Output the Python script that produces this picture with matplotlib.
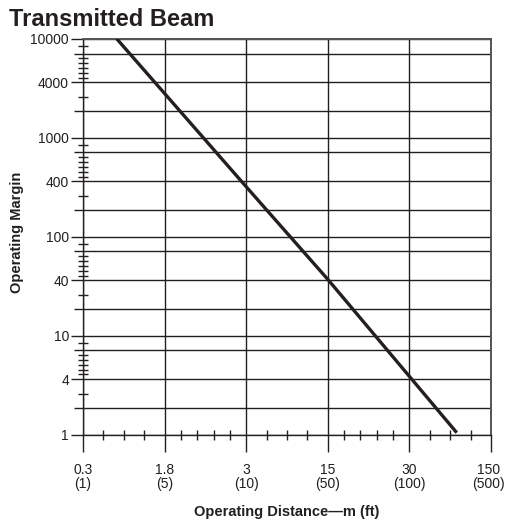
import numpy as np
import matplotlib
matplotlib.use('Agg')
import matplotlib.pyplot as plt
from matplotlib.transforms import ScaledTranslation, blended_transform_factory

plt.rcParams['font.family'] = ['Liberation Sans Narrow', 'Liberation Sans', 'DejaVu Sans']

# ---- data (distance in ft, margin) ----
dist_ft = [2.65, 10, 50, 332]
margin = [10000, 363, 41, 1.07]

x_major = [1, 5, 10, 50, 100, 500]
x_labels = ['0.3\n(1)', '1.8\n(5)', '3\n(10)', '15\n(50)', '30\n(100)', '150\n(500)']
x_minor = [2, 3, 4, 6, 7, 8, 9, 20, 30, 40, 60, 70, 80, 90, 200, 300, 400]

y_grid_steps = [1, 2, 4, 7]
y_label_steps = [1, 4]
y_minor_steps = [3, 4.5, 5, 5.5, 6, 6.5, 8.5]

# chart's own (non-log) scales: piecewise linear
Y_ANCH = [1, 2, 4, 7, 10]
Y_FRAC = [0, 0.265, 0.558, 0.85, 1]


def pw(v, xs, ys):
    v = np.asarray(v, float)
    out = np.interp(v, xs, ys)
    out = np.where(v < xs[0], ys[0] + (v - xs[0]) * (ys[1] - ys[0]) / (xs[1] - xs[0]), out)
    out = np.where(v > xs[-1], ys[-1] + (v - xs[-1]) * (ys[-1] - ys[-2]) / (xs[-1] - xs[-2]), out)
    return out


def x_fwd(v):
    return pw(v, x_major, list(range(len(x_major))))


def x_inv(p):
    return pw(p, list(range(len(x_major))), x_major)


def y_fwd(v):
    v = np.clip(np.asarray(v, float), 1e-6, None)
    d = np.floor(np.log10(v) + 1e-9)
    return d + np.interp(v / 10.0 ** d, Y_ANCH, Y_FRAC)


def y_inv(p):
    p = np.asarray(p, float)
    d = np.floor(p + 1e-9)
    return 10.0 ** d * np.interp(p - d, Y_FRAC, Y_ANCH)


ink = '#231f20'
fig = plt.figure(figsize=(5.05, 5.25), dpi=100)
ax = fig.add_axes([83 / 505, 1 - 434.5 / 525, 408 / 505, 395.8 / 525])
ax.set_xscale('function', functions=(x_fwd, x_inv))
ax.set_yscale('function', functions=(y_fwd, y_inv))
ax.set_xlim(1, 500)
ax.set_ylim(1, 10000)

ax.plot(dist_ft, margin, color=ink, lw=2.4, solid_capstyle='butt', zorder=5)

# ticks (last x label drawn by hand, nudged left so it stays inside the figure)
tick_len, tick_pad = 12.2, 8
ax.set_xticks(x_major)
ax.set_xticklabels(x_labels[:-1] + [''], fontsize=10, linespacing=1.05)
ax.set_xticks(x_minor, minor=True)
tr = blended_transform_factory(ax.transData, ax.transAxes) + \
    ScaledTranslation(-2.5 / 100, -(tick_len + tick_pad) / 72, fig.dpi_scale_trans)
ax.text(x_major[-1], 0, x_labels[-1], transform=tr, ha='center', va='top',
        fontsize=10, linespacing=1.05, color=ink, clip_on=False)

y_major = [s * 10 ** d for d in range(4) for s in y_grid_steps] + [10000]
y_lab = [str(int(v)) if (v / 10 ** int(np.floor(np.log10(v) + 1e-9))) in y_label_steps else '' for v in y_major]
y_minor = [s * 10 ** d for d in range(4) for s in y_minor_steps]
ax.set_yticks(y_major)
ax.set_yticklabels(y_lab, fontsize=10)
ax.set_yticks(y_minor, minor=True)
ax.yaxis.set_minor_formatter(plt.NullFormatter())
ax.xaxis.set_minor_formatter(plt.NullFormatter())

ax.tick_params(axis='x', which='major', direction='out', length=tick_len, width=1.0, color=ink,
               pad=tick_pad, labelcolor=ink)
ax.tick_params(axis='y', which='major', direction='out', length=8.6, width=1.0, color=ink, pad=1.5, labelcolor=ink)
ax.tick_params(which='minor', direction='inout', length=6.5, width=1.0, color=ink)

for t, lab in zip(ax.yaxis.get_major_ticks(), y_lab):
    if lab == '':
        t.tick1line.set_markersize(6.5)

ax.grid(True, which='major', color=ink, lw=1.0)
ax.set_axisbelow(True)
for s in ax.spines.values():
    s.set_color(ink)
    s.set_linewidth(1.0)
ax.spines['top'].set_color('#555555')
ax.spines['right'].set_color('#555555')
ax.spines['top'].set_linewidth(1.4)
ax.spines['right'].set_linewidth(1.4)

ax.set_xlabel('Operating Distance\u2014m (ft)', fontsize=10.5, fontweight='bold', color=ink)
ax.xaxis.set_label_coords(0.5, -0.178)
ax.xaxis.label.set_va('top')
ax.set_ylabel('Operating Margin', fontsize=10.5, fontweight='bold', color=ink)
ax.yaxis.set_label_coords(-0.145, 0.51)

fig.text(9 / 505, 1 - 26.5 / 525, 'Transmitted Beam', fontsize=17, fontweight='bold',
         family=['Liberation Sans', 'DejaVu Sans'], color=ink, va='baseline')

fig.savefig('out.png', dpi=100)
